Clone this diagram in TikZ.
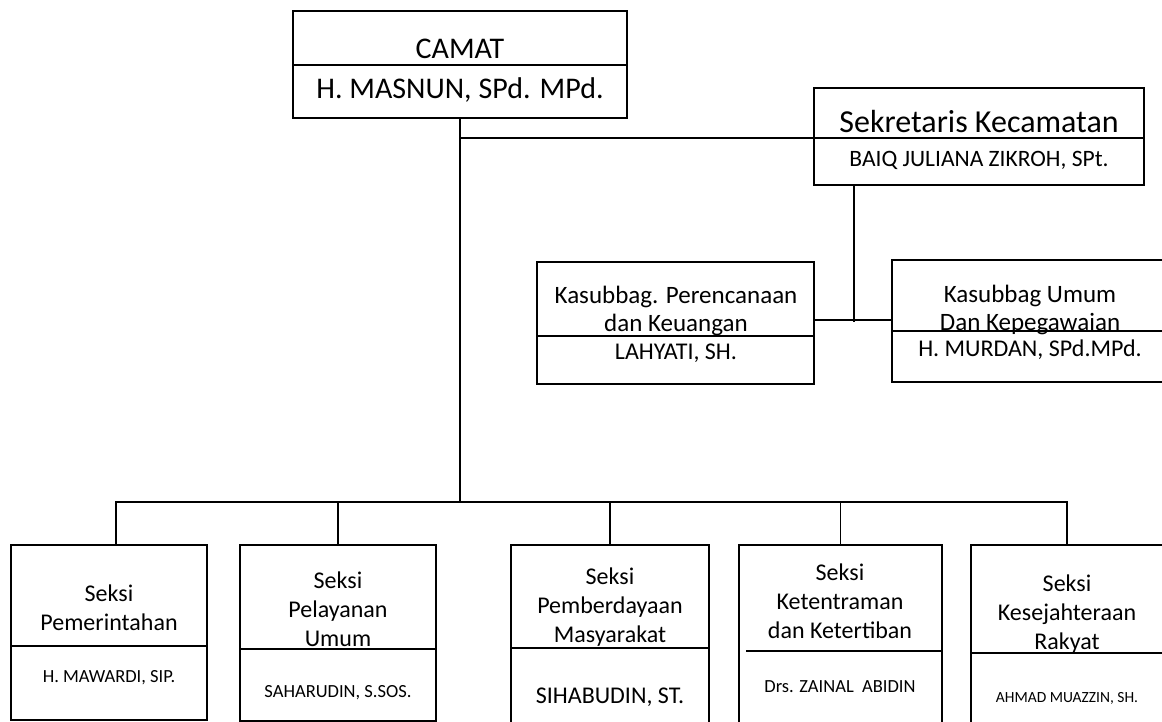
\documentclass[tikz,border=0pt]{standalone}
\usepackage{fontspec}
\setmainfont{Carlito}

\tikzset{
  box/.style={draw, line width=1.5pt, inner sep=0pt},
  ttl/.style={align=center, inner sep=0pt, font=\fontsize{24}{29}\selectfont},
  nm/.style={inner sep=0pt, font=\fontsize{18.5}{22}\selectfont},
}

\begin{document}
\begin{tikzpicture}[x=1pt,y=-1pt,line width=1.5pt]
\useasboundingbox (0,0) rectangle (1162,722);

% camat
\node[box,minimum width=334pt,minimum height=107pt] (camat) at (460,64.5) {};
\draw (camat.west |- 0,65) -- (camat.east |- 0,65);
\node[inner sep=0pt,font=\fontsize{30}{34}\selectfont] (camatT) at (460,49) {CAMAT};
\node[inner sep=0pt,font=\fontsize{30}{34}\selectfont] (camatN) at (460,90) {H. MASNUN, SPd. MPd.};

% sekretaris
\node[box,minimum width=330pt,minimum height=97pt] (sekre) at (979,136.5) {};
\draw (sekre.west |- 0,138) coordinate (sekreL) -- (sekre.east |- 0,138);
\node[inner sep=0pt,font=\fontsize{32}{36}\selectfont] (sekreT) at (979,122) {Sekretaris Kecamatan};
\node[inner sep=0pt,font=\fontsize{23.5}{28}\selectfont] (sekreN) at (979,160) {BAIQ JULIANA ZIKROH, SPt.};

% kasubbag
\node[box,minimum width=277pt,minimum height=122pt] (keu) at (675.5,323) {};
\draw (keu.west |- 0,336) -- (keu.east |- 0,336);
\node[ttl,font=\fontsize{25}{28}\selectfont] (keuT) at (676,311) {Kasubbag. Perencanaan\\dan Keuangan};
\node[ttl] (keuN) at (676,353) {LAHYATI, SH.};

\node[box,minimum width=276pt,minimum height=122pt] (umum) at (1030,321) {};
\draw (umum.west |- 0,331) -- (umum.east |- 0,331);
\node[ttl,font=\fontsize{25}{28}\selectfont] (umumT) at (1030,310) {Kasubbag Umum\\Dan Kepegawaian};
\node[ttl] (umumN) at (1030,350) {H. MURDAN, SPd.MPd.};

% seksi
\foreach \n/\cx/\w/\h/\d/\i in {pem/109/196/175/646/0, pel/338/196/176/649/0, pmd/610/198/178/648/2, trantib/840.5/203/178/651/8, kesra/1067/192/178/653/0}{
  \node[box,minimum width=\w pt,minimum height=\h pt,anchor=north] (\n) at (\cx,544) {};
  \draw ([xshift=\i pt]\n.west |- 0,\d) -- (\n.east |- 0,\d);
}
\node[ttl] (pemT) at (109,607.5) {Seksi\\Pemerintahan};
\node[nm] (pemN) at (109,678) {H. MAWARDI, SIP.};
\node[ttl] (pelT) at (338,609) {Seksi\\Pelayanan\\Umum};
\node[nm] (pelN) at (338,693) {SAHARUDIN, S.SOS.};
\node[ttl] (pmdT) at (610,607.5) {Seksi\\Pemberdayaan\\Masyarakat};
\node[ttl] (pmdN) at (610,697) {SIHABUDIN, ST.};
\node[ttl] (trantibT) at (840,601) {Seksi\\Ketentraman\\dan Ketertiban};
\node[nm] (trantibN) at (840,687) {Drs. ZAINAL\ \ ABIDIN};
\node[ttl] (kesraT) at (1067,614) {Seksi\\Kesejahteraan\\Rakyat};
\node[nm,font=\fontsize{15.5}{19}\selectfont] (kesraN) at (1067,698) {AHMAD MUAZZIN, SH.};

% garis
\coordinate (bus) at (460,502);
\coordinate (kj) at (854,320);
\coordinate (pemTop) at ([xshift=7pt]pem.north);
\draw (camat.south) -- (bus);
\draw (camat.south |- sekreL) -- (sekreL);
\draw (sekre.south -| kj) -- ([yshift=-2pt]kj);
\draw (keu.east |- kj) -- (umum.west |- kj);
\draw (pemTop) -- (pemTop |- bus) -- (kesra.north |- bus) -- (kesra.north);
\foreach \n in {pel,pmd,trantib}
  \draw (\n.north |- bus) -- (\n.north);

\end{tikzpicture}
\end{document}
